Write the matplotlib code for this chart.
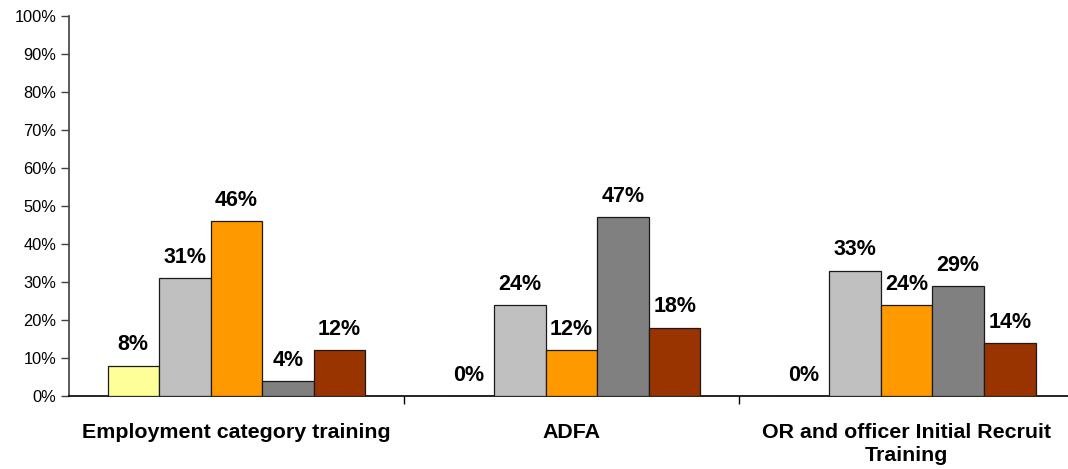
import matplotlib
matplotlib.use("Agg")
import matplotlib.pyplot as plt
import numpy as np

categories = ["Employment category training", "ADFA", "OR and officer Initial Recruit\nTraining"]
series_colors = ["#FFFF99", "#C0C0C0", "#FF9900", "#808080", "#993300"]
values = [
    [8, 0, 0],     # series 1
    [31, 24, 33],  # series 2
    [46, 12, 24],  # series 3
    [4, 47, 29],   # series 4
    [12, 18, 14],  # series 5
]
y_ticks = list(range(0, 101, 10))
y_tick_labels = [f"{t}%" for t in y_ticks]

plt.rcParams["font.family"] = ["Liberation Sans", "DejaVu Sans"]

fig = plt.figure(figsize=(10.68, 4.69), dpi=100)
ax = fig.add_axes([0.0646, 0.1557, 0.9354, 0.8102])

x = np.arange(len(categories))
n = len(values)
width = 0.154
for i, (vals, col) in enumerate(zip(values, series_colors)):
    pos = x + (i - (n - 1) / 2) * width
    ax.bar(pos, vals, width=width, color=col, edgecolor="#1a1a1a", linewidth=0.9, zorder=3)
    for p, v in zip(pos, vals):
        ax.text(p, v + 4.0, f"{v}%", ha="center", va="baseline",
                fontsize=15.5, fontweight="bold", color="black")

ax.set_ylim(0, 100)
ax.set_xlim(-0.5, 2.482)
ax.set_yticks(y_ticks)
ax.set_yticklabels(y_tick_labels, fontsize=11.8)

# category boundaries as x ticks, labels drawn separately under each group
ax.set_xticks([0.5, 1.5])
ax.set_xticklabels([])
ax.tick_params(axis="x", direction="out", length=6, width=1, color="black")
ax.tick_params(axis="y", direction="out", length=6, width=1, color="#404040", pad=3)
for xi, cat in zip(x, categories):
    ax.text(xi, -7.0, cat, ha="center", va="top", fontsize=15.4, fontweight="bold",
            linespacing=1.3, clip_on=False)

for s in ["top", "right"]:
    ax.spines[s].set_visible(False)
ax.spines["left"].set_color("#404040")
ax.spines["bottom"].set_color("black")
ax.spines["left"].set_linewidth(1.2)
ax.spines["bottom"].set_linewidth(1.2)

fig.savefig("out.png", dpi=100)
